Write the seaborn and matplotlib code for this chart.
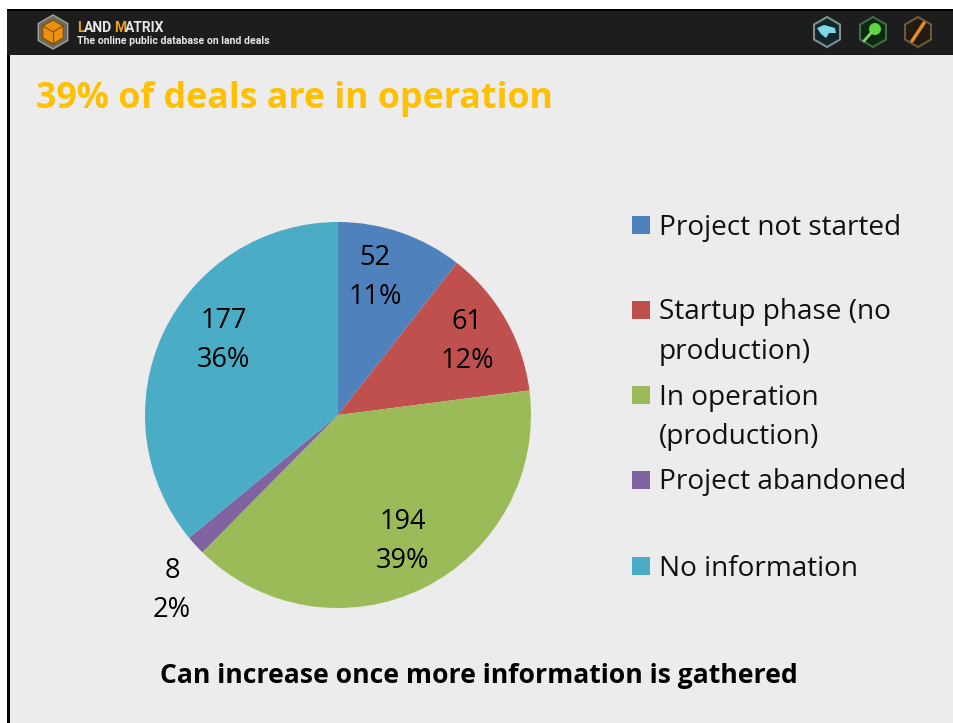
import matplotlib
matplotlib.use("Agg")
import matplotlib.pyplot as plt
from matplotlib.patches import Rectangle, RegularPolygon, Circle, Polygon
import seaborn as sns

categories = ["Project not started", "Startup phase (no\nproduction)", "In operation\n(production)",
              "Project abandoned", "No information"]
deals = [52, 61, 194, 8, 177]
percents = ["11%", "12%", "39%", "2%", "36%"]
colors = ["#4f81bd", "#c0504d", "#9bbb59", "#8064a2", "#4bacc6"]

title = "39% of deals are in operation"
footer = "Can increase once more information is gathered"

W, H = 954, 723
sns.set_theme(style="white")
plt.rcParams["font.family"] = ["Open Sans", "DejaVu Sans"]

fig = plt.figure(figsize=(W / 100, H / 100), dpi=100, facecolor="white")

# fond de la diapo, en pixels
bg = fig.add_axes([0, 0, 1, 1])
bg.set_xlim(0, W)
bg.set_ylim(H, 0)
bg.axis("off")
bg.add_patch(Rectangle((10, 10), W - 10, H - 10, fc="#ececec", ec="none"))
bg.add_patch(Rectangle((7, 9), 3, H - 9, fc="black", ec="none"))
bg.add_patch(Rectangle((7, 9), W - 7, 46, fc="#1d1d1d", ec="none"))
bg.add_patch(Rectangle((7, 9), W - 7, 2, fc="black", ec="none"))

# logo
bg.add_patch(RegularPolygon((53, 32), 6, radius=17, fc="#6d6a62", ec="#a8a49a", lw=1))
bg.add_patch(RegularPolygon((53, 32), 6, radius=12, fc="#e8920f", ec="#8a5200", lw=1))
bg.plot([53, 53], [32, 44], color="#8a5200", lw=0.8)
bg.plot([43, 53, 63], [26, 32, 26], color="#8a5200", lw=0.8)
bg.text(77, 27.5, "L", color="#e8a020", fontsize=10, fontweight="bold", va="center", family="Roboto")
bg.text(84, 27.5, "AND", color="#e6e6e6", fontsize=10, fontweight="bold", va="center", family="Roboto")
bg.text(114, 27.5, "M", color="#e8a020", fontsize=10, fontweight="bold", va="center", family="Roboto")
bg.text(125, 27.5, "ATRIX", color="#e6e6e6", fontsize=10, fontweight="bold", va="center", family="Roboto")
bg.text(77, 41, "The online public database on land deals", color="#e6e6e6", fontsize=7.6,
        fontweight="bold", va="center", family="Roboto")

# icones du bandeau
bg.add_patch(RegularPolygon((827, 32), 6, radius=15, fc="#14262b", ec="#7f8f8f", lw=1.5))
bg.add_patch(Polygon([[817, 28], [824, 25], [835, 28], [836, 33], [829, 33], [826, 38], [821, 34]],
                     fc="#7fd8e8", ec="none"))
bg.add_patch(RegularPolygon((873, 32), 6, radius=15, fc="#0c2a10", ec="#3f6b45", lw=1.5))
bg.add_patch(Circle((875, 29), 6, fc="#5cd642", ec="none"))
bg.plot([864, 871], [41, 33], color="#8fcf6a", lw=2)
bg.add_patch(RegularPolygon((918, 32), 6, radius=15, fc="#241a10", ec="#6b5a3c", lw=1.5))
bg.plot([912, 924], [41, 23], color="#e0902a", lw=2.5)

bg.text(36, 99, title, color="#ffc000", fontsize=25.75, fontweight="bold", va="center", ha="left")
bg.text(479, 676, footer, color="black", fontsize=19.1, fontweight="bold", va="center", ha="center")

# camembert
cx, cy, r = 338, 415, 193
ax = fig.add_axes([(cx - r) / W, 1 - (cy + r) / H, 2 * r / W, 2 * r / H])
ax.pie(deals, colors=sns.color_palette(colors), startangle=90, counterclock=False,
       radius=1, wedgeprops={"linewidth": 0})
ax.set_xlim(-1, 1)
ax.set_ylim(-1, 1)

# calque texte par-dessus le camembert
txt = fig.add_axes([0, 0, 1, 1], facecolor="none")
txt.set_xlim(0, W)
txt.set_ylim(H, 0)
txt.axis("off")

# etiquettes des parts
label_pos = [(375, 277), (467, 341), (403, 541), (172, 590), (224, 340)]
for (lx, ly), n, p in zip(label_pos, deals, percents):
    txt.text(lx, ly - 19, str(n), fontsize=19.5, color="black", ha="center", va="center")
    txt.text(lx, ly + 20, p, fontsize=19.5, color="black", ha="center", va="center")

# legende
legend_y = [225, 310, 395, 480, 566]
for y, name, c in zip(legend_y, categories, colors):
    txt.add_patch(Rectangle((632, y - 9), 18, 18, fc=c, ec="none"))
    txt.text(659, y + 2.5, name.split("\n")[0], fontsize=20.2, color="#111111", va="center")
    if "\n" in name:
        txt.text(659, y + 42, name.split("\n")[1], fontsize=20.2, color="#111111", va="center")

fig.savefig("out.png", dpi=100, facecolor="white")
